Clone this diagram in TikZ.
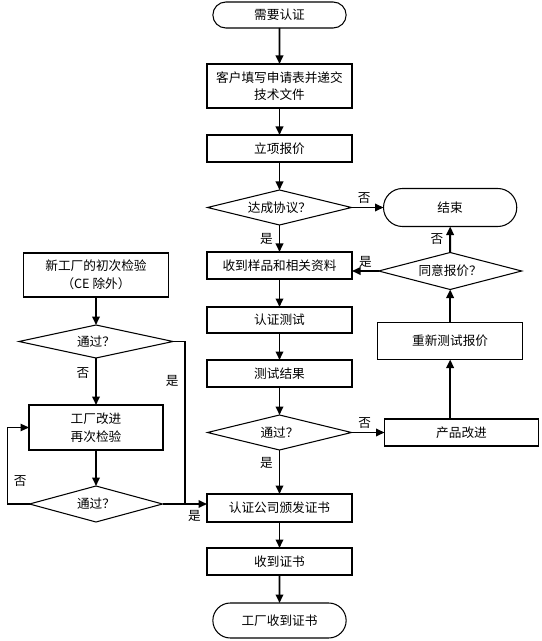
\documentclass[tikz,border=0pt]{standalone}
\usepackage{fontspec}
\newfontfamily\cjk{Noto Sans CJK SC}
\usetikzlibrary{shapes.geometric}
\usetikzlibrary{shapes.misc}
\usetikzlibrary{positioning}
\usetikzlibrary{arrows.meta}
\tikzstyle{process} = [rectangle, draw, black, line width=0.6pt, outer sep=0pt, minimum width=2.9cm, minimum height=0.54cm, align=center]
\tikzstyle{terminal} = [rounded rectangle, draw, black, line width=0.6pt, outer sep=0pt, minimum width=2.9cm, minimum height=0.52cm]
\tikzstyle{decision} = [diamond, draw, black, line width=0.6pt, outer sep=0pt, aspect=4, inner sep=0pt, minimum width=2.88cm, minimum height=0.7cm]
\tikzstyle{flow} = [draw, line width=1.1pt, -{Triangle[length=1.7mm, width=1.5mm]}]
\tikzstyle{link} = [draw, line width=0.6pt]
\tikzstyle{tag} = [inner sep=1.5pt]

\begin{document}
\begin{tikzpicture}[font=\cjk\fontsize{7.2}{10}\selectfont]
  \useasboundingbox (0,0) rectangle (10.82,-12.82);
  % main column
  \node[terminal] (start) at (5.59,-0.30) {需要认证};
  \node[process, minimum height=0.88cm] (apply) [below = 0.72cm of start] {客户填写申请表并递交\\技术文件};
  \node[process] (quote) [below = 0.54cm of apply] {立项报价};
  \node[decision] (agreement) [below = 0.56cm of quote] {达成协议？};
  \node[process] (samples) [below = 0.54cm of agreement] {收到样品和相关资料};
  \node[process, minimum height=0.52cm] (testing) [below = 0.56cm of samples] {认证测试};
  \node[process] (result) [below = 0.54cm of testing] {测试结果};
  \node[decision] (passtest) [below = 0.56cm of result] {通过？};
  \node[process, minimum height=0.56cm] (issue) [below = 0.88cm of passtest] {认证公司颁发证书};
  \node[process] (received) [below = 0.52cm of issue] {收到证书};
  \node[terminal, minimum height=0.7cm] (factorygets) [below = 0.56cm of received] {工厂收到证书};
  % right column
  \node[terminal, minimum height=0.76cm] (finish) [right = 0.64cm of agreement] {结束};
  \node[decision, minimum height=0.74cm, minimum width=2.86cm] (acceptquote) [below = 0.52cm of finish] {同意报价？};
  \node[process, minimum height=0.74cm] (requote) [below = 0.66cm of acceptquote] {重新测试报价};
  \node[process, minimum width=3.08cm] (improve) [right = 0.66cm of passtest] {产品改进};
  % left column
  \node[process, minimum height=0.88cm] (newfactory) at (1.92,-5.5) {新工厂的初次检验\\（CE 除外）};
  \node[decision, minimum width=3.08cm, minimum height=0.66cm] (firstpass) [below = 0.56cm of newfactory] {通过？};
  \node[process, minimum width=2.68cm, minimum height=0.9cm] (factoryfix) [below = 0.94cm of firstpass] {工厂改进\\再次检验};
  \node[decision, minimum width=2.66cm, minimum height=0.72cm] (secondpass) [below = 0.72cm of factoryfix] {通过？};
  \coordinate[right = 0.24cm of firstpass.east] (joinpoint);
  \coordinate[left = 0.44cm of secondpass.west] (loopcorner);

  \draw[flow] (start) -- (apply);
  \draw[flow] (apply) -- (quote);
  \draw[flow] (quote) -- (agreement);
  \draw[flow] (agreement) -- node[tag, above, pos=0.4]{否} (finish);
  \draw[flow] (agreement) -- node[left]{是} (samples);
  \draw[flow] (samples) -- (testing);
  \draw[flow] (testing) -- (result);
  \draw[flow] (result) -- (passtest);
  \draw[flow] (passtest) -- node[tag, above, pos=0.4]{否} (improve);
  \draw[flow] (passtest) -- node[left, pos=0.3]{是} (issue);
  \draw[flow] (issue) -- (received);
  \draw[flow] (received) -- (factorygets);
  \draw[flow] (requote.south |- improve.north) -- (requote);
  \draw[flow] (requote) -- (acceptquote);
  \draw[flow] (acceptquote) -- node[left]{否} (finish);
  \draw[flow] (acceptquote.west) -- node[tag, above]{是} (acceptquote.west -| samples.east);

  \draw[flow] (newfactory) -- (firstpass);
  \draw[flow] (firstpass) -- node[left, pos=0.32]{否} (factoryfix);
  \draw[flow] (factoryfix) -- (secondpass);
  \draw[flow] (secondpass.east) -- node[below, pos=0.72]{是} (secondpass.east -| issue.west);
  \draw[link] (firstpass.east) -- (joinpoint) -- node[left, pos=0.24]{是} (joinpoint |- secondpass.east);
  \draw[link, -{Triangle[length=1.7mm, width=1.5mm]}] (secondpass.west) -- (loopcorner) -- node[right, pos=0.3]{否} (loopcorner |- factoryfix.west) -- (factoryfix.west);
\end{tikzpicture}
\end{document}
